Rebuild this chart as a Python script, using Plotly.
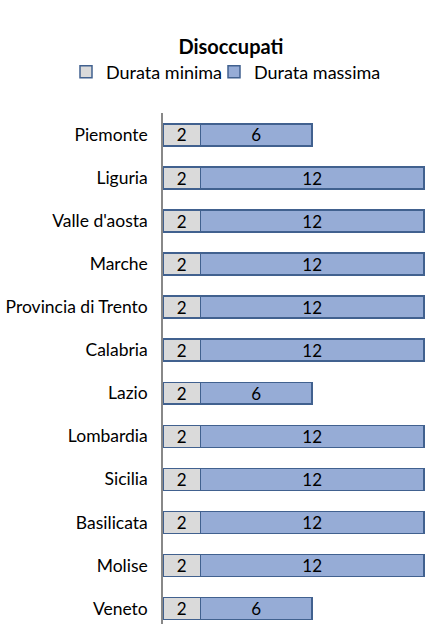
import plotly.graph_objects as go

regioni = ["Piemonte", "Liguria", "Valle d'aosta", "Marche", "Provincia di Trento",
           "Calabria", "Lazio", "Lombardia", "Sicilia", "Basilicata", "Molise", "Veneto"]
durata_minima = [2, 2, 2, 2, 2, 2, 2, 2, 2, 2, 2, 2]
durata_massima = [6, 12, 12, 12, 12, 12, 6, 12, 12, 12, 12, 6]

FONT = "Lato"
edge = dict(color="#41618f", width=1.5)

fig = go.Figure()
fig.add_trace(go.Bar(
    y=regioni, x=durata_minima, orientation="h", name="Durata minima",
    marker=dict(color="#dadada", line=edge), legend="legend", showlegend=True,
    text=durata_minima, textposition="inside", insidetextanchor="middle",
    constraintext="none",
    textangle=0, textfont=dict(family=FONT, size=17, color="black"),
))
fig.add_trace(go.Bar(
    y=regioni, x=durata_massima, orientation="h", name="Durata massima",
    marker=dict(color="#96acd6", line=edge), legend="legend2", showlegend=True,
    text=durata_massima, textposition="inside", insidetextanchor="middle",
    constraintext="none",
    textangle=0, textfont=dict(family=FONT, size=17, color="black"),
))

leg_common = dict(orientation="h", xref="paper", yref="paper", xanchor="left",
                  y=1 + (113 - 72) / 511, yanchor="middle", visible=True,
                  font=dict(family=FONT, size=18, color="black"),
                  itemwidth=30, bgcolor="rgba(0,0,0,0)")

fig.update_layout(
    width=426, height=624, showlegend=True,
    barmode="stack", bargap=0.49,
    paper_bgcolor="white", plot_bgcolor="white",
    margin=dict(l=163, r=0, t=113, b=0, pad=0, autoexpand=False),
    font=dict(family=FONT, size=17.5, color="black"),
    title=dict(text="<b>Disoccupati</b>", x=0.542, xanchor="center",
               y=1 - 47 / 624, yanchor="middle",
               font=dict(family=FONT, size=20, color="black")),
    legend=dict(x=(66 - 163) / 263, **leg_common),
    legend2=dict(x=(214 - 163) / 263, **leg_common),
)
fig.update_xaxes(range=[0, 14.1], visible=False, fixedrange=True)
fig.update_yaxes(categoryorder="array", categoryarray=regioni,
                 range=[11.36, -0.51], showline=True, linecolor="#888888",
                 linewidth=1.5, showgrid=False, ticks="", ticklabelstandoff=10,
                 fixedrange=True,
                 tickfont=dict(family=FONT, size=17.5, color="black"))

fig.write_html("out.html", config={"displayModeBar": False},
               post_script="document.body.style.margin='0';document.body.style.overflow='hidden';")
